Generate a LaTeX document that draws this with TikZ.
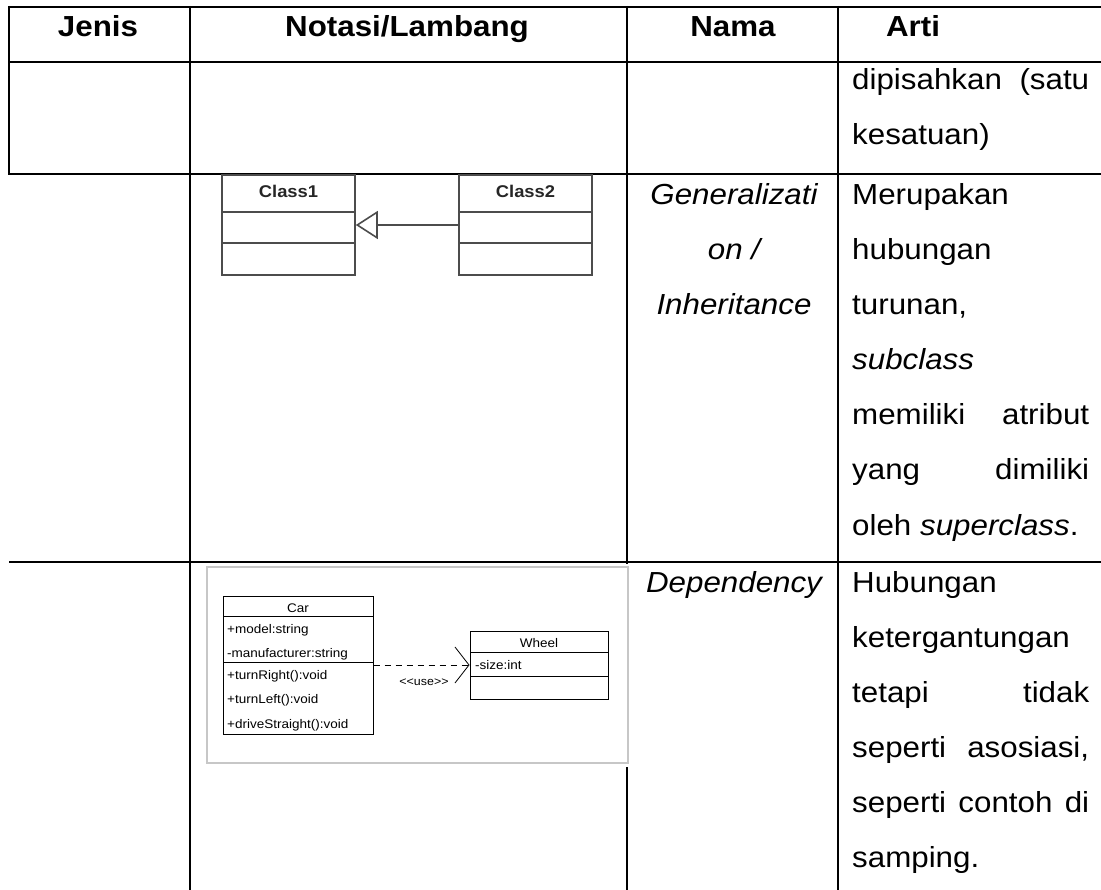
\documentclass[tikz,border=0pt]{standalone}
\usepackage{fontspec}
\setmainfont[FakeStretch=1.08]{Liberation Sans}
\usetikzlibrary{arrows.meta}
\tikzset{
  grid/.style={line width=2pt, black},
  hdr/.style={anchor=base, inner sep=0pt, font=\fontsize{29}{33}\selectfont\bfseries},
  body/.style={anchor=base west, inner sep=0pt, font=\fontsize{29}{33}\selectfont},
  nama/.style={anchor=base, inner sep=0pt, font=\fontsize{29}{33}\selectfont\itshape},
  genbox/.style={draw=black!70, line width=1.6pt, minimum width=133pt, minimum height=100pt, inner sep=0pt},
  umlbox/.style={draw=black, line width=1pt, inner sep=0pt},
  umltxt/.style={inner sep=0pt, font=\fontsize{12.5}{14}\selectfont},
}
\begin{document}
\begin{tikzpicture}[x=1pt,y=-1pt]
\useasboundingbox (0,0) rectangle (1101,890);
% ---- table grid ----
\draw[grid] (9,7) -- (1101,7);
\draw[grid] (9,62) -- (1101,62);
\draw[grid] (9,174) -- (1101,174);
\draw[grid] (9,562) -- (1101,562);
\draw[grid] (9,6) -- (9,175);
\draw[grid] (190,6) -- (190,890);
\draw[grid] (627,6) -- (627,890);
\draw[grid] (838,6) -- (838,890);
% ---- header ----
\node[hdr] (hJenis) at (98,37) {Jenis};
\node[hdr] (hNotasi) at (407,37) {Notasi/Lambang};
\node[hdr] (hNama) at (733,37) {Nama};
\node[hdr] (hArti) at (913,37) {Arti};
% ---- row 1 ----
\node[body] (a1) at (852,90) {\makebox[237pt][s]{dipisahkan (satu}};
\node[body] (a2) at (852,145) {kesatuan)};
% ---- row 2 ----
\node[genbox] (c1) at (288.5,225) {};
\node[genbox] (c2) at (525.5,225) {};
\draw[black!70, line width=1.6pt] (222,212) -- (355,212) (222,243) -- (355,243);
\draw[black!70, line width=1.6pt] (459,212) -- (592,212) (459,243) -- (592,243);
\node[anchor=base, inner sep=0pt, font=\fontsize{17}{19}\selectfont\bfseries, black!85] (c1t) at (288.5,198) {Class1};
\node[anchor=base, inner sep=0pt, font=\fontsize{17}{19}\selectfont\bfseries, black!85] (c2t) at (525.5,198) {Class2};
\draw[black!70, line width=1.6pt, -{Triangle[open, length=22pt, width=28pt, line width=1.6pt]}] (c2.west) -- (c1.east);
\node[nama] (n1) at (734,205) {Generalizati};
\node[nama] (n2) at (734,260) {on /};
\node[nama] (n3) at (734,315) {Inheritance};
\node[body] (b1) at (852,205) {Merupakan};
\node[body] (b2) at (852,260) {hubungan};
\node[body] (b3) at (852,315) {turunan,};
\node[body] (b4) at (852,370) {\textit{subclass}};
\node[body] (b5) at (852,425) {\makebox[237pt][s]{memiliki atribut}};
\node[body] (b6) at (852,480) {\makebox[237pt][s]{yang dimiliki}};
\node[body] (b7) at (852,535) {oleh \textit{superclass}.};
% ---- row 3 ----
\fill[white] (204,564) rectangle (634,767);
\draw[black!22, line width=1.5pt] (207,567) rectangle (628,763);
\node[umlbox, minimum width=150pt, minimum height=138pt] (car) at (298,665) {};
\draw[line width=1pt] (223,616) -- (373,616) (223,662) -- (373,662);
\node[umltxt, anchor=base] (carT) at (298,612) {Car};
\node[umltxt, anchor=base west] (car1) at (227,633) {+model:string};
\node[umltxt, anchor=base west] (car2) at (227,657) {-manufacturer:string};
\node[umltxt, anchor=base west] (car3) at (227,679) {+turnRight():void};
\node[umltxt, anchor=base west] (car4) at (227,703) {+turnLeft():void};
\node[umltxt, anchor=base west] (car5) at (227,728) {+driveStraight():void};
\node[umlbox, minimum width=138pt, minimum height=68pt] (wheel) at (539,665) {};
\draw[line width=1pt] (470,652) -- (608,652) (470,676) -- (608,676);
\node[umltxt, anchor=base] (wT) at (539,647) {Wheel};
\node[umltxt, anchor=base west] (w1) at (475,669) {-size:int};
\draw[line width=1pt, dash pattern=on 6pt off 5pt, -{Straight Barb[length=14pt, width=36pt, line width=0.8pt]}] (car.east) -- (wheel.west);
\node[umltxt, anchor=base, font=\fontsize{11.5}{13}\selectfont] (use) at (424,685) {{<}{<}use{>}{>}};
\node[nama] (n4) at (734,592) {Dependency};
\node[body] (d1) at (852,592) {Hubungan};
\node[body] (d2) at (852,647) {ketergantungan};
\node[body] (d3) at (852,702) {\makebox[237pt][s]{tetapi tidak}};
\node[body] (d4) at (852,757) {\makebox[237pt][s]{seperti asosiasi,}};
\node[body] (d5) at (852,812) {\makebox[237pt][s]{seperti contoh di}};
\node[body] (d6) at (852,867) {samping.};
\end{tikzpicture}
\end{document}
